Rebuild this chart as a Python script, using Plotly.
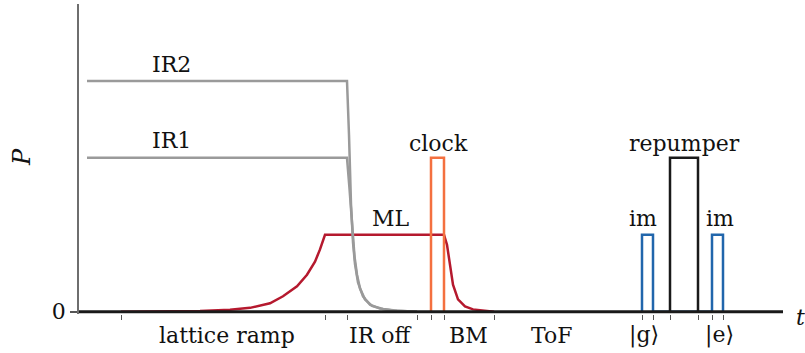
import plotly.graph_objects as go

# Time axis in arbitrary units; power P in units of the ML plateau.
t_max = 70.4
p_max = 4.0
p_min = -0.03  # a little room below P = 0 so the baseline covers zero-level segments

# Sequence boundaries (tick marks on the time axis)
boundary_ticks = [4.2, 24.6, 26.8, 33.8, 35.2, 36.5, 41.5, 56.3, 57.4, 59.1, 61.9, 63.3, 64.4]

# IR lattice beams: constant level, then switched off with a smooth decay
ir2_t = [0.8, 26.8, 27.0, 27.2, 27.4, 27.6, 27.9, 28.4, 29.1, 30.1, 31.4, 33.8]
ir2_p = [3.0, 3.0, 2.3, 1.4, 0.9, 0.62, 0.38, 0.2, 0.09, 0.04, 0.015, 0.0]
ir1_t = [0.8, 26.8, 27.05, 27.3, 27.55, 27.8, 28.1, 28.6, 29.3, 30.4, 31.8, 33.8]
ir1_p = [2.0, 2.0, 1.6, 1.1, 0.72, 0.48, 0.3, 0.16, 0.075, 0.035, 0.012, 0.0]

# Magic lattice: ramp up, hold, band-mapping ramp down
ml_t = [4.2, 10.0, 12.1, 15.1, 17.1, 19.1, 20.4, 21.8, 22.8, 23.6, 24.1, 24.6,
        36.5, 36.8, 37.1, 37.4, 37.9, 38.6, 39.4, 40.8, 41.5]
ml_p = [0.0, 0.003, 0.01, 0.025, 0.05, 0.11, 0.2, 0.33, 0.48, 0.65, 0.81, 1.0,
        1.0, 0.87, 0.61, 0.35, 0.16, 0.07, 0.03, 0.01, 0.0]

# Clock pulse
clock_t = [35.2, 35.2, 36.5, 36.5]
clock_p = [0.0, 2.0, 2.0, 0.0]

# Imaging pulses (|g> and |e>)
im_t = [56.3, 56.3, 57.4, 57.4, 63.3, 63.3, 64.4, 64.4]
im_p = [0.0, 1.0, 1.0, 0.0, 0.0, 1.0, 1.0, 0.0]

# Repumper pulse
rep_t = [59.1, 59.1, 61.9, 61.9]
rep_p = [0.0, 2.0, 2.0, 0.0]

# Labels on the pulses
pulse_labels = ["IR2", "IR1", "ML", "clock", "repumper", "im", "im"]
pulse_label_t = [9.2, 9.2, 31.2, 35.9, 60.5, 56.35, 64.05]
pulse_label_p = [3.22, 2.22, 1.21, 2.19, 2.19, 1.21, 1.21]

# Sequence stage names below the time axis
stage_labels = ["lattice ramp", "IR off", "BM", "ToF", "|g\u27e9", "|e\u27e9"]
stage_label_t = [14.8, 30.1, 38.9, 47.2, 56.5, 64.0]

FONT = "DejaVu Serif"
FS = 22
TXT = "#111"

fig = go.Figure()


def add_line(t, p, color, width=2.5):
    fig.add_trace(go.Scatter(x=t, y=p, mode="lines",
                             line=dict(color=color, width=width),
                             hoverinfo="skip", showlegend=False))


add_line(ml_t, ml_p, "#b5192e")
add_line(ir1_t, ir1_p, "#9a9a9a")
add_line(ir2_t, ir2_p, "#9a9a9a")
add_line(clock_t, clock_p, "#f4703f")
add_line(im_t, im_p, "#2166ac")
add_line(rep_t, rep_p, "#1a1a1a")

# Time axis baseline at P = 0, drawn over the traces
fig.add_shape(type="line", xref="paper", yref="y", x0=0, x1=1, y0=0, y1=0,
              line=dict(color="#1a1a1a", width=3), layer="above")

annotations = []
for txt, tx, py in zip(pulse_labels, pulse_label_t, pulse_label_p):
    annotations.append(dict(x=tx, y=py, xref="x", yref="y", text=txt,
                            showarrow=False, xanchor="center", yanchor="middle",
                            font=dict(family=FONT, size=FS, color=TXT)))

for txt, tx in zip(stage_labels, stage_label_t):
    annotations.append(dict(x=tx, y=-0.068, xref="x", yref="paper", text=txt,
                            showarrow=False, xanchor="center", yanchor="middle",
                            font=dict(family=FONT, size=FS, color=TXT)))

# Axis names
annotations.append(dict(x=(22 - 79) / 704, y=(312 - 155) / 310, xref="paper", yref="paper",
                        text="<i>P</i>", showarrow=False, textangle=-90,
                        xanchor="center", yanchor="middle",
                        font=dict(family=FONT, size=24, color=TXT)))
annotations.append(dict(x=(800 - 79) / 704, y=(314 - 317) / 310, xref="paper", yref="paper",
                        text="<i>t</i>", showarrow=False,
                        xanchor="center", yanchor="middle",
                        font=dict(family=FONT, size=FS, color=TXT)))

fig.update_layout(
    width=805, height=353,
    margin=dict(l=79, r=22, t=4, b=39),
    plot_bgcolor="white", paper_bgcolor="white",
    annotations=annotations,
    xaxis=dict(range=[0, t_max], showgrid=False, zeroline=False, showline=False,
               tickvals=boundary_ticks, ticktext=[""] * len(boundary_ticks),
               ticks="outside", ticklen=5, tickwidth=1, tickcolor="#555"),
    yaxis=dict(range=[p_min, p_max], showgrid=False, zeroline=False,
               showline=True, linecolor="#6e6e6e", linewidth=1.5,
               tickvals=[0], ticktext=["0"],
               ticks="outside", ticklen=7, tickwidth=1.5, tickcolor="#555",
               tickfont=dict(family=FONT, size=FS, color=TXT)),
)

fig.write_html("out.html")
